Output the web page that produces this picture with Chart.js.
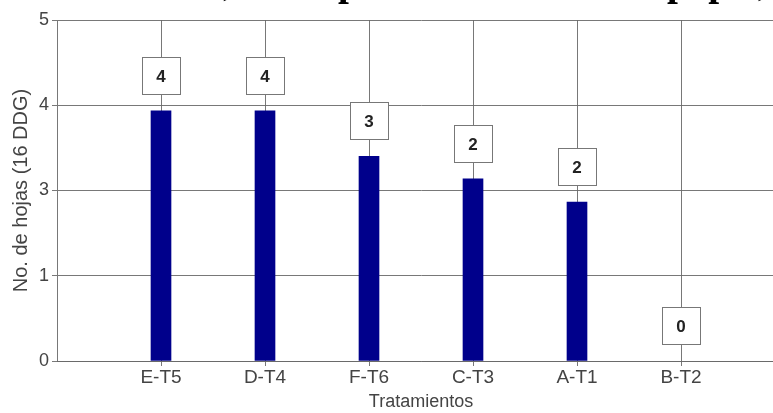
<!DOCTYPE html>
<html>
<head>
<meta charset="utf-8">
<script src="https://cdn.jsdelivr.net/npm/chart.js@4/dist/chart.umd.min.js"></script>
<style>
  html, body { margin: 0; padding: 0; background: #fff; overflow: hidden; width: 773px; height: 413px; }
  #wrap { position: absolute; left: 0; top: 0; width: 785px; height: 413px; }
</style>
</head>
<body>
<div id="wrap"><canvas id="c" width="785" height="413"></canvas></div>
<script>
const categories = ["E-T5", "D-T4", "F-T6", "C-T3", "A-T1", "B-T2"];
const hojas = [3.67, 3.67, 3.0, 2.67, 2.33, 0];
const etiquetas = ["4", "4", "3", "2", "2", "0"];
const yTickLabels = ["0", "1", "3", "4", "5"];
const tituloFragmentos = ["aserrín,", "pino", "papel,"];

Chart.defaults.font.family = "'Liberation Sans', Arial, sans-serif";
Chart.defaults.color = "#444";

const gridColor = "rgba(105,105,105,0.9)";

const boxLabels = {
  id: "boxLabels",
  afterDatasetsDraw(chart) {
    const ctx = chart.ctx;
    const meta = chart.getDatasetMeta(0);
    ctx.save();
    meta.data.forEach((bar, i) => {
      const w = 38, h = 37;
      const cx = bar.x;
      const bottom = bar.y - 17;
      const x0 = Math.round(cx - w / 2) + 0.5;
      const y0 = Math.round(bottom - h) + 0.5;
      ctx.fillStyle = "#fff";
      ctx.fillRect(x0, y0, w, h);
      ctx.strokeStyle = "#777";
      ctx.lineWidth = 1;
      ctx.strokeRect(x0, y0, w, h);
      ctx.fillStyle = "#222";
      ctx.font = "bold 17px 'Liberation Sans', Arial, sans-serif";
      ctx.textAlign = "center";
      ctx.textBaseline = "middle";
      ctx.fillText(etiquetas[i], cx, y0 + h / 2 + 1);
    });
    ctx.restore();
  }
};

const topTitle = {
  id: "topTitle",
  afterDraw(chart) {
    const ctx = chart.ctx;
    ctx.save();
    ctx.fillStyle = "#000";
    ctx.font = "bold 39px 'Liberation Serif', 'Times New Roman', serif";
    ctx.textBaseline = "alphabetic";
    const base = -5;
    ctx.textAlign = "right";
    ctx.fillText(tituloFragmentos[0], 233, base);
    ctx.textAlign = "left";
    ctx.fillText(tituloFragmentos[1], 338, base);
    ctx.fillText(tituloFragmentos[2], 667, base);
    ctx.restore();
  }
};

new Chart(document.getElementById("c"), {
  type: "bar",
  data: {
    datasets: [{
      data: categories.map((c, i) => ({ x: i + 1, y: hojas[i] })),
      backgroundColor: hojas.map(v => v > 0 ? "#00008b" : "rgba(0,0,0,0)"),
      borderWidth: 0,
      barThickness: 20
    }]
  },
  options: {
    responsive: false,
    animation: false,
    layout: { padding: { top: 20, right: 0, left: 0, bottom: 0 } },
    plugins: { legend: { display: false }, tooltip: { enabled: false } },
    scales: {
      x: {
        type: "linear",
        min: 0,
        max: 7,
        offset: false,
        afterBuildTicks(scale) {
          scale.ticks = categories.map((c, i) => ({ value: i + 1 }));
        },
        afterFit(scale) { scale.height = 52; },
        ticks: {
          autoSkip: false,
          maxRotation: 0,
          padding: 0,
          color: "#444",
          font: { size: 19 },
          callback: (v) => categories[v - 1]
        },
        grid: { offset: false, color: gridColor, lineWidth: 1, tickLength: 5, drawTicks: true },
        border: { display: true, color: gridColor },
        title: {
          display: true,
          text: "Tratamientos",
          color: "#444",
          font: { size: 18 },
          padding: { top: -1, bottom: 0 }
        }
      },
      y: {
        min: 0,
        max: 5,
        afterBuildTicks(scale) {
          scale.ticks = yTickLabels.map((t, i) => ({ value: i * 1.25 }));
        },
        afterFit(scale) { scale.width = 57; },
        ticks: {
          color: "#444",
          font: { size: 18 },
          padding: 3,
          callback: (v, i) => yTickLabels[i]
        },
        grid: { color: gridColor, lineWidth: 1, tickLength: 5, drawTicks: true },
        border: { display: true, color: gridColor },
        title: {
          display: true,
          text: "No. de hojas (16 DDG)",
          color: "#444",
          font: { size: 20 },
          padding: { top: 9, bottom: 0 }
        }
      }
    }
  },
  plugins: [boxLabels, topTitle]
});
</script>
</body>
</html>
